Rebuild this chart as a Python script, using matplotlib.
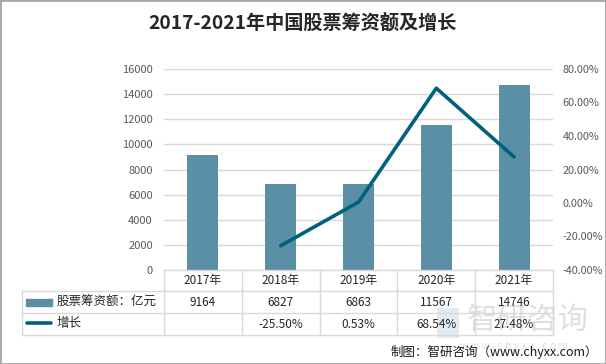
import matplotlib
matplotlib.use("Agg")
import matplotlib.pyplot as plt
from matplotlib.patches import Rectangle
from matplotlib.lines import Line2D

plt.rcParams['font.family'] = ['Noto Sans CJK SC', 'DejaVu Sans']

years = ["2017年", "2018年", "2019年", "2020年", "2021年"]
amount = [9164, 6827, 6863, 11567, 14746]
growth = [None, -25.50, 0.53, 68.54, 27.48]
growth_labels = ["", "-25.50%", "0.53%", "68.54%", "27.48%"]
series_names = ["股票筹资额：亿元", "增长"]
title = "2017-2021年中国股票筹资额及增长"
source = "制图：智研咨询（www.chyxx.com）"

W, H = 606, 364
fig = plt.figure(figsize=(W / 100, H / 100), dpi=100)

def fx(px):
    return px / W

def fy(py):
    return 1 - py / H

L, R, T, B = 164, 553, 69, 270
ax = fig.add_axes([fx(L), fy(B), fx(R) - fx(L), fy(T) - fy(B)])
bar_color = "#5b8fa6"
line_color = "#00617f"
grid_color = "#d9d9d9"
tick_color = "#595959"

x = list(range(len(years)))
ax.bar(x, amount, width=0.4, color=bar_color, zorder=2)
ax.set_xlim(-0.5, len(years) - 0.5)
ax.set_ylim(0, 16000)
ax.set_yticks(range(0, 16001, 2000))
ax.yaxis.grid(True, color=grid_color, linewidth=1, zorder=0)
ax.tick_params(axis='y', length=0, labelsize=8, labelcolor=tick_color, pad=8)
ax.set_xticks([])
for s in ax.spines.values():
    s.set_visible(False)

ax2 = ax.twinx()
gx = [i for i, g in zip(x, growth) if g is not None]
gy = [g for g in growth if g is not None]
ax2.plot(gx, gy, color=line_color, linewidth=2.6, solid_capstyle='round', zorder=3)
ax2.set_ylim(-40, 80)
ax2.set_yticks(range(-40, 81, 20))
ax2.set_yticklabels([f"{v:.2f}%" for v in range(-40, 81, 20)])
ax2.tick_params(axis='y', length=0, labelsize=7.8, labelcolor=tick_color, pad=7)
for s in ax2.spines.values():
    s.set_visible(False)

# Watermark (behind table text)
wm = "#b8b8b8"
fig.text(fx(528), fy(320), "智研咨询", ha='center', va='center', fontsize=22, color=wm,
         alpha=0.45, zorder=0)
fig.text(fx(514), fy(346), "w w w . c h y x x . c o m", ha='center', va='center', fontsize=7.5,
         color=wm, alpha=0.45, zorder=0)
fig.add_artist(Rectangle((fx(437), fy(338)), fx(22), fy(0) - fy(30), facecolor="#a8c8e0",
                         alpha=0.35, transform=fig.transFigure, zorder=0))

# Table
col_w = (R - L) / len(years)
row_y = [270, 291, 313, 335]
tl = dict(color=grid_color, linewidth=1, transform=fig.transFigure)
fig.add_artist(Line2D([fx(L), fx(R)], [fy(row_y[0])] * 2, **tl))
for yy in row_y[1:]:
    fig.add_artist(Line2D([fx(22), fx(R)], [fy(yy)] * 2, **tl))
for i in range(len(years) + 1):
    xx = L + i * col_w
    fig.add_artist(Line2D([fx(xx)] * 2, [fy(row_y[0]), fy(row_y[3])], **tl))
fig.add_artist(Line2D([fx(22)] * 2, [fy(row_y[1]), fy(row_y[3])], **tl))

for i, yr in enumerate(years):
    cx = L + (i + 0.5) * col_w
    fig.text(fx(cx), fy((row_y[0] + row_y[1]) / 2), yr, ha='center', va='center',
             fontsize=8.5, color="#262626")
    fig.text(fx(cx), fy((row_y[1] + row_y[2]) / 2), str(amount[i]), ha='center', va='center',
             fontsize=8.5, color="#262626")
    fig.text(fx(cx), fy((row_y[2] + row_y[3]) / 2), growth_labels[i], ha='center', va='center',
             fontsize=8.5, color="#262626")

# legend keys
r1 = (row_y[1] + row_y[2]) / 2
r2 = (row_y[2] + row_y[3]) / 2
fig.add_artist(Rectangle((fx(26), fy(r1 + 3.5)), fx(26), fy(0) - fy(7), color=bar_color,
                         transform=fig.transFigure))
fig.add_artist(Line2D([fx(27), fx(51)], [fy(r2 - 1)] * 2, color=line_color, linewidth=2.6,
                      solid_capstyle='round', transform=fig.transFigure))
fig.text(fx(57), fy(r1), series_names[0], ha='left', va='center', fontsize=9, color="#262626")
fig.text(fx(57), fy(r2 - 1), series_names[1], ha='left', va='center', fontsize=9, color="#262626")

# Title
fig.text(fx(302), fy(23), title, ha='center', va='center', fontsize=13.8, fontweight='bold',
         color="#262626")

# Source
fig.text(fx(598), fy(352), source, ha='right', va='center', fontsize=9, color="#1a1a1a")

# border
fig.add_artist(Rectangle((0, 0), 1, 1, fill=False, edgecolor="#a6a6a6", linewidth=2,
                         transform=fig.transFigure))

fig.savefig("out.png", dpi=100)
